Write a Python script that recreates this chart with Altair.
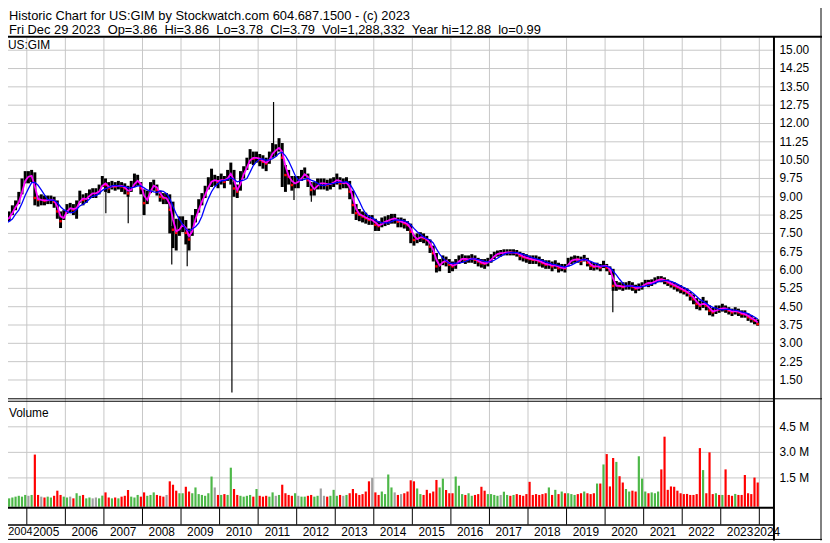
import altair as alt
import pandas as pd

# ---------------- data (monthly) ----------------
START_YEAR = 2004
START_MONTH = 4

CLOSE = [
    7.65, 8.06, 8.06, 8.20, 8.47, 8.67, 8.87, 9.48, 9.82,                      # 2004 Apr-Dec
    9.82, 9.89, 8.95, 8.87, 8.87, 8.83, 8.87, 8.90, 8.80, 8.40, 8.00, 8.26,    # 2005
    8.53, 8.53, 8.47, 8.60, 9.00, 8.87, 8.94, 9.14, 9.14, 9.14, 9.28, 9.62,    # 2006
    9.48, 9.35, 9.48, 9.42, 9.48, 9.42, 9.35, 9.14, 9.42, 9.62, 9.69, 9.35,    # 2007
    8.74, 9.00, 9.42, 9.48, 9.28, 9.00, 8.94, 8.94, 8.47, 7.65, 7.52, 7.79,    # 2008
    7.92, 7.52, 7.25, 7.92, 8.26, 8.66, 8.94, 9.21, 9.55, 9.68, 9.68, 9.61,    # 2009
    9.75, 9.61, 9.89, 10.00, 9.34, 9.21, 9.82, 10.02, 10.36, 10.63, 10.56, 10.63,  # 2010
    10.50, 10.43, 10.36, 10.63, 10.90, 10.90, 11.10, 10.60, 9.89, 9.82, 9.48, 9.61,  # 2011
    9.61, 9.89, 9.95, 9.68, 9.28, 9.34, 9.55, 9.55, 9.55, 9.48, 9.55, 9.61,    # 2012
    9.75, 9.55, 9.55, 9.61, 9.21, 8.66, 8.33, 8.26, 8.19, 8.12, 8.05, 8.05,    # 2013
    7.85, 7.80, 7.95, 8.00, 8.05, 8.11, 8.11, 7.98, 7.98, 7.91, 7.84, 7.57,    # 2014
    7.23, 7.30, 7.37, 7.30, 7.23, 6.96, 6.69, 6.15, 6.22, 6.42, 6.35, 6.22,    # 2015
    6.15, 6.28, 6.42, 6.49, 6.42, 6.45, 6.49, 6.42, 6.35, 6.28, 6.26, 6.35,    # 2016
    6.49, 6.62, 6.69, 6.69, 6.72, 6.73, 6.71, 6.72, 6.69, 6.58, 6.53, 6.49,    # 2017
    6.45, 6.42, 6.41, 6.35, 6.28, 6.22, 6.23, 6.15, 6.22, 6.08, 6.09, 6.07,    # 2018
    6.35, 6.42, 6.44, 6.43, 6.37, 6.51, 6.30, 6.17, 6.13, 6.17, 6.10, 6.24,    # 2019
    6.10, 5.96, 5.35, 5.36, 5.34, 5.31, 5.35, 5.38, 5.31, 5.24, 5.31, 5.35,    # 2020
    5.49, 5.45, 5.49, 5.56, 5.62, 5.61, 5.56, 5.49, 5.42, 5.35, 5.29, 5.22,    # 2021
    5.15, 5.08, 4.95, 4.81, 4.61, 4.54, 4.68, 4.54, 4.34, 4.27, 4.40, 4.39,    # 2022
    4.47, 4.40, 4.34, 4.27, 4.34, 4.27, 4.20, 4.19, 4.07, 4.00, 3.93, 3.79,    # 2023
]

HIGH = [
    8.10, 8.30, 8.25, 8.40, 8.65, 8.85, 9.20, 9.75, 10.05,
    10.05, 10.10, 10.00, 9.05, 9.10, 9.05, 9.05, 9.05, 9.00, 8.85, 8.40, 8.45,
    8.70, 8.75, 8.70, 8.85, 9.25, 9.10, 9.15, 9.30, 9.35, 9.35, 9.50, 9.85,
    9.75, 9.60, 9.65, 9.60, 9.65, 9.60, 9.55, 9.45, 9.65, 9.95, 9.90, 9.60,
    9.30, 9.25, 9.60, 9.70, 9.50, 9.25, 9.15, 9.15, 9.10, 8.80, 8.10, 8.20,
    8.20, 8.05, 7.70, 8.25, 8.50, 8.90, 9.15, 9.45, 9.80, 10.15, 9.90, 9.85,
    9.95, 9.85, 10.10, 10.40, 10.10, 9.50, 10.05, 10.25, 10.60, 10.95, 10.85, 10.85,
    10.75, 10.70, 10.60, 10.85, 11.20, 11.15, 11.40, 11.20, 10.30, 10.10, 9.85, 9.85,
    9.85, 10.10, 10.20, 9.95, 9.60, 9.60, 9.75, 9.75, 9.75, 9.70, 9.75, 9.80,
    9.95, 9.80, 9.75, 9.80, 9.65, 9.25, 8.70, 8.50, 8.40, 8.35, 8.25, 8.25,
    8.10, 8.00, 8.15, 8.20, 8.25, 8.30, 8.30, 8.15, 8.15, 8.10, 8.00, 7.90,
    7.45, 7.50, 7.55, 7.50, 7.40, 7.25, 7.00, 6.70, 6.45, 6.60, 6.55, 6.45,
    6.35, 6.45, 6.60, 6.65, 6.60, 6.60, 6.65, 6.60, 6.50, 6.45, 6.45, 6.50,
    6.65, 6.75, 6.80, 6.82, 6.85, 6.85, 6.85, 6.85, 6.82, 6.75, 6.70, 6.65,
    6.60, 6.60, 6.60, 6.55, 6.45, 6.40, 6.40, 6.35, 6.40, 6.30, 6.25, 6.25,
    6.50, 6.55, 6.60, 6.58, 6.55, 6.62, 6.50, 6.35, 6.30, 6.30, 6.25, 6.38,
    6.25, 6.15, 6.05, 5.55, 5.50, 5.50, 5.50, 5.55, 5.50, 5.40, 5.45, 5.50,
    5.60, 5.60, 5.62, 5.70, 5.75, 5.75, 5.70, 5.62, 5.55, 5.50, 5.42, 5.38,
    5.30, 5.25, 5.10, 5.00, 4.85, 4.75, 4.90, 4.75, 4.55, 4.45, 4.55, 4.55,
    4.62, 4.55, 4.48, 4.42, 4.48, 4.42, 4.35, 4.35, 4.22, 4.15, 4.05, 3.98,
]

LOW = [
    7.35, 7.85, 7.85, 8.00, 8.25, 8.45, 8.70, 9.10, 9.55,
    9.55, 9.60, 8.65, 8.60, 8.65, 8.65, 8.70, 8.70, 8.55, 8.10, 7.72, 8.05,
    8.30, 8.35, 8.25, 8.10, 8.75, 8.65, 8.75, 8.95, 8.95, 8.95, 9.10, 9.40,
    9.20, 9.15, 9.30, 9.25, 9.30, 9.20, 9.10, 9.00, 9.20, 9.40, 9.45, 9.10,
    8.25, 8.70, 9.15, 9.25, 9.05, 8.80, 8.70, 8.70, 7.50, 6.90, 6.80, 7.40,
    7.55, 7.05, 6.80, 7.40, 7.95, 8.35, 8.65, 8.95, 9.30, 9.40, 9.45, 9.35,
    9.50, 9.35, 9.65, 9.50, 9.00, 8.95, 9.25, 9.75, 10.10, 10.35, 10.30, 10.40,
    10.25, 10.15, 10.05, 10.35, 10.60, 10.65, 10.85, 9.40, 9.20, 9.50, 9.25, 9.35,
    9.35, 9.65, 9.75, 9.40, 9.05, 9.05, 9.30, 9.30, 9.30, 9.25, 9.30, 9.40,
    9.50, 9.30, 9.35, 9.35, 8.90, 8.30, 8.05, 8.00, 7.95, 7.90, 7.85, 7.85,
    7.60, 7.60, 7.75, 7.80, 7.85, 7.90, 7.90, 7.75, 7.75, 7.70, 7.60, 7.10,
    7.00, 7.10, 7.15, 7.10, 7.00, 6.70, 6.35, 5.90, 5.95, 6.20, 6.15, 5.88,
    5.95, 6.05, 6.25, 6.30, 6.25, 6.30, 6.30, 6.25, 6.15, 6.10, 6.05, 6.15,
    6.30, 6.45, 6.55, 6.55, 6.60, 6.60, 6.60, 6.60, 6.55, 6.40, 6.35, 6.30,
    6.25, 6.25, 6.25, 6.15, 6.10, 6.05, 6.05, 5.95, 6.05, 5.90, 5.95, 5.90,
    6.15, 6.25, 6.30, 6.30, 6.20, 6.35, 6.15, 6.00, 5.98, 6.02, 5.95, 6.08,
    5.95, 5.80, 5.15, 5.15, 5.20, 5.15, 5.20, 5.20, 5.15, 5.05, 5.15, 5.20,
    5.35, 5.30, 5.35, 5.42, 5.50, 5.50, 5.42, 5.35, 5.28, 5.20, 5.12, 5.05,
    5.00, 4.92, 4.75, 4.60, 4.40, 4.35, 4.45, 4.35, 4.15, 4.10, 4.20, 4.25,
    4.30, 4.25, 4.18, 4.12, 4.18, 4.12, 4.05, 4.05, 3.92, 3.85, 3.78, 3.72,
]

# single-day spikes (thin lines), position in years
SPIKE_T = [2007.05, 2007.63, 2008.76, 2009.16, 2010.32, 2011.40, 2011.93, 2012.38, 2020.20]
SPIKE_LOW = [8.33, 7.92, 6.23, 6.16, 0.99, 11.00, 8.87, 8.80, 4.27]
SPIKE_HIGH = [9.40, 9.20, 7.80, 7.40, 9.60, 12.88, 9.50, 9.30, 5.90]

VOLUME_M = [
    0.90, 0.35, 0.30, 0.30, 0.35, 0.40, 0.45, 0.40, 0.50,
    0.45, 0.50, 2.87, 0.50, 0.40, 0.35, 0.40, 0.35, 0.45, 0.75, 0.50, 0.40,
    0.35, 0.40, 0.30, 0.60, 0.45, 0.50, 0.30, 0.35, 0.30, 0.35, 0.30, 0.46,
    0.65, 0.35, 0.30, 0.35, 0.30, 0.40, 0.45, 0.79, 0.40, 0.35, 0.50, 0.40,
    0.65, 0.45, 0.50, 0.65, 0.50, 0.45, 0.40, 0.50, 1.30, 1.10, 0.75, 0.60,
    0.60, 0.98, 0.70, 0.60, 0.94, 0.55, 0.50, 0.45, 0.60, 1.58, 0.94, 0.50,
    0.50, 0.55, 0.50, 2.10, 0.85, 0.50, 0.45, 0.40, 0.45, 0.50, 0.40, 0.85,
    0.45, 0.40, 0.45, 0.40, 0.65, 0.45, 0.50, 1.10, 0.60, 0.50, 0.45, 0.60,
    0.45, 0.40, 0.40, 0.45, 0.50, 0.40, 0.45, 0.88, 0.45, 0.40, 0.45, 0.80,
    0.45, 0.50, 0.45, 0.50, 0.60, 0.85, 0.60, 0.50, 0.55, 0.70, 1.30, 1.50,
    0.65, 0.50, 0.70, 0.55, 1.70, 0.94, 0.65, 0.50, 0.55, 0.60, 0.70, 1.36,
    1.30, 0.88, 0.55, 0.50, 0.80, 0.60, 0.70, 1.38, 0.94, 1.46, 0.79, 0.60,
    0.60, 1.58, 1.04, 0.55, 0.50, 0.60, 0.45, 0.50, 0.55, 0.98, 0.75, 0.55,
    0.55, 0.50, 0.45, 0.50, 0.69, 0.50, 0.45, 0.50, 0.55, 0.50, 0.45, 0.55,
    1.27, 0.50, 0.55, 0.50, 0.55, 0.60, 0.94, 0.50, 0.80, 0.55, 0.70, 0.60,
    0.60, 0.55, 0.50, 0.55, 0.60, 0.70, 0.60, 0.55, 0.60, 1.17, 1.17, 2.29,
    2.90, 1.00, 2.67, 2.44, 1.60, 1.23, 0.85, 0.70, 0.75, 0.70, 2.77, 1.46,
    0.70, 0.60, 0.65, 0.60, 0.70, 2.00, 3.92, 0.80, 1.00, 0.98, 0.75, 0.60,
    0.55, 0.56, 0.50, 0.50, 0.55, 3.25, 1.96, 0.60, 3.00, 0.55, 0.60, 0.50,
    0.50, 2.00, 0.50, 0.45, 0.56, 0.50, 0.50, 1.67, 0.60, 0.55, 1.52, 1.23,
]

PRICE_TICKS = [1.50, 2.25, 3.00, 3.75, 4.50, 5.25, 6.00, 6.75, 7.50, 8.25,
               9.00, 9.75, 10.50, 11.25, 12.00, 12.75, 13.50, 14.25, 15.00]
VOLUME_TICKS = [1.5, 3.0, 4.5]
YEARS = list(range(2004, 2025))

HEADER_1 = "Historic Chart for US:GIM by Stockwatch.com 604.687.1500 - (c) 2023"
HEADER_2 = ("Fri Dec 29 2023 \u00a0Op=3.86 \u00a0Hi=3.86 \u00a0Lo=3.78 \u00a0Cl=3.79"
            " \u00a0Vol=1,288,332 \u00a0Year hi=12.88 \u00a0lo=0.99")
TICKER = "US:GIM"
VOLUME_TITLE = "Volume"

# ---------------- build tables ----------------
assert len(CLOSE) == len(HIGH) == len(LOW) == len(VOLUME_M)
rows = []
yr, mo = START_YEAR, START_MONTH
prev = None
for c, h, l, v in zip(CLOSE, HIGH, LOW, VOLUME_M):
    if prev is None or c > prev:
        d = "up"
    elif c < prev:
        d = "down"
    else:
        d = "flat"
    rows.append(dict(t=yr + (mo - 0.5) / 12, close=c, high=h, low=l, vol=v, dir=d))
    prev = c
    mo += 1
    if mo > 12:
        mo, yr = 1, yr + 1
df = pd.DataFrame(rows)
spikes = pd.DataFrame({"t": SPIKE_T, "low": SPIKE_LOW, "high": SPIKE_HIGH})

# ---------------- layout (page pixels; the page has an 8px margin) ----------------
OFF = 8
def px(p):
    return p - OFF

W, H = 830 - OFF, 543 - OFF
X_A, X_B = 27.0, 766.7          # page x of Jan 2005 and Jan 2024
PANEL_L, PANEL_R = 0, 781
PER_YEAR = (X_B - X_A) / 19.0
X_RIGHT = 2024 + (782 - X_B) / PER_YEAR
HEAD_Y = 34.5

GRID = "#c6c6c6"
FONT = "Liberation Sans"

xs = alt.Scale(domain=[2005, 2024], range=[px(X_A), px(X_B)], zero=False, nice=False)
ys = alt.Scale(domain=[1.5, 15.0], range=[px(381), px(48)], zero=False, nice=False)
vs = alt.Scale(domain=[0, 4.5], range=[px(505.7), px(428.3)], zero=False, nice=False)

X = alt.X("t:Q", scale=xs, axis=None)
ONE = pd.DataFrame({"k": [0]})

def hline(y, x0, x1, w=1.0, color="black"):
    return alt.Chart(ONE).mark_rule(color=color, strokeWidth=w).encode(
        x=alt.value(px(x0)), x2=alt.value(px(x1)), y=alt.value(px(y)))

def vline(x, y0, y1, w=1.0, color="black"):
    return alt.Chart(ONE).mark_rule(color=color, strokeWidth=w).encode(
        x=alt.value(px(x)), y=alt.value(px(y0)), y2=alt.value(px(y1)))

def label(text, x, y, size=12, align="left", baseline="alphabetic"):
    return alt.Chart(pd.DataFrame({"s": [text]})).mark_text(
        align=align, baseline=baseline, fontSize=size, font=FONT, color="black"
    ).encode(x=alt.value(px(x)), y=alt.value(px(y)), text="s:N")

# grid
price_grid = alt.Chart(pd.DataFrame({"p": PRICE_TICKS})).mark_rule(color=GRID, strokeWidth=1).encode(
    y=alt.Y("p:Q", scale=ys, axis=None), x=alt.value(px(PANEL_L)), x2=alt.value(px(PANEL_R)))
vol_grid = alt.Chart(pd.DataFrame({"v": VOLUME_TICKS})).mark_rule(color=GRID, strokeWidth=1).encode(
    y=alt.Y("v:Q", scale=vs, axis=None), x=alt.value(px(PANEL_L)), x2=alt.value(px(PANEL_R)))
year_df = pd.DataFrame({"yr": YEARS[1:]})
year_grid = alt.Chart(year_df).mark_rule(color=GRID, strokeWidth=1).encode(
    x=alt.X("yr:Q", scale=xs, axis=None), y=alt.value(px(HEAD_Y + 1)), y2=alt.value(px(510)))
year_ticks = alt.Chart(year_df).mark_rule(color="black", strokeWidth=1).encode(
    x=alt.X("yr:Q", scale=xs, axis=None), y=alt.value(px(510)), y2=alt.value(px(527)))

# price marks
base = alt.Chart(df)
hl_bars = base.mark_rule(color="black", strokeWidth=3.0).encode(
    x=X, y=alt.Y("low:Q", scale=ys, axis=None), y2="high:Q")
spike_lines = alt.Chart(spikes).mark_rule(color="black", strokeWidth=1.2).encode(
    x=X, y=alt.Y("low:Q", scale=ys, axis=None), y2="high:Q")
red_pts = base.transform_filter(alt.datum.dir == "down").mark_square(
    color="#ff0000", size=6, opacity=1).encode(x=X, y=alt.Y("close:Q", scale=ys, axis=None))
ma_fast = base.transform_window(
    ma="mean(close)", frame=[-1, 0], sort=[alt.SortField("t")]
).mark_line(color="#ff00ff", strokeWidth=1.8).encode(
    x=X, y=alt.Y("ma:Q", scale=ys, axis=None))
ma_slow = base.transform_window(
    ma="mean(close)", frame=[-4, 0], sort=[alt.SortField("t")]
).mark_line(color="#0000ff", strokeWidth=1.3).encode(
    x=X, y=alt.Y("ma:Q", scale=ys, axis=None))

# volume
vol_bars = base.mark_rule(strokeWidth=2.2).encode(
    x=X, y=alt.Y("vol:Q", scale=vs, axis=None), y2=alt.value(px(509)),
    color=alt.Color("dir:N", scale=alt.Scale(domain=["down", "up", "flat"],
                                             range=["#ff0000", "#4db848", "#a0a0a0"]),
                    legend=None))

# axis labels
plab = pd.DataFrame({"p": PRICE_TICKS, "s": [f"{p:.2f}" for p in PRICE_TICKS]})
price_labels = alt.Chart(plab).mark_text(align="left", baseline="middle", fontSize=12,
                                         font=FONT, color="black").encode(
    y=alt.Y("p:Q", scale=ys, axis=None), x=alt.value(px(787)), text="s:N")
vlab = pd.DataFrame({"v": VOLUME_TICKS, "s": [f"{v:.1f} M" for v in VOLUME_TICKS]})
vol_labels = alt.Chart(vlab).mark_text(align="left", baseline="middle", fontSize=12,
                                       font=FONT, color="black").encode(
    y=alt.Y("v:Q", scale=vs, axis=None), x=alt.value(px(787)), text="s:N")
ylab = pd.DataFrame({
    "pos": [(2024 + X_RIGHT) / 2 if y == 2024 else y + 0.5 for y in YEARS[1:]],
    "s": [str(y) for y in YEARS[1:]],
})
year_labels = alt.Chart(ylab).mark_text(align="center", baseline="middle", fontSize=12,
                                        font=FONT, color="black").encode(
    x=alt.X("pos:Q", scale=xs, axis=None), y=alt.value(px(535)), text="s:N")
first_year_label = label(str(YEARS[0]), 8.3, 535, size=11, baseline="middle")

# frame
frame = [
    hline(HEAD_Y, 0, 830, 2),
    hline(400, 0, 830, 1),
    hline(402.5, 0, 781, 1),
    hline(510, 0, 781, 2),
    hline(527.5, 0, 781, 1.5),
    hline(542, 0, 830, 1),
    vline(781.5, HEAD_Y, 543, 2),
    vline(829, 0, 543, 1),
]

texts = [
    label(HEADER_1, 9, 17.8, size=13),
    label(HEADER_2, 9, 31.8, size=13),
    label(TICKER, 8, 47),
    label(VOLUME_TITLE, 9, 418),
]

chart = alt.layer(
    price_grid, vol_grid, year_grid,
    hl_bars, spike_lines, red_pts, ma_fast, ma_slow,
    vol_bars,
    year_ticks, *frame,
    price_labels, vol_labels, year_labels, first_year_label, *texts,
).resolve_scale(
    x="independent", y="independent", color="independent"
).properties(
    width=W, height=H, padding=0, autosize="none", background="white"
).configure_view(stroke=None)

chart.save("out.html", embed_options={"renderer": "svg", "actions": False})
